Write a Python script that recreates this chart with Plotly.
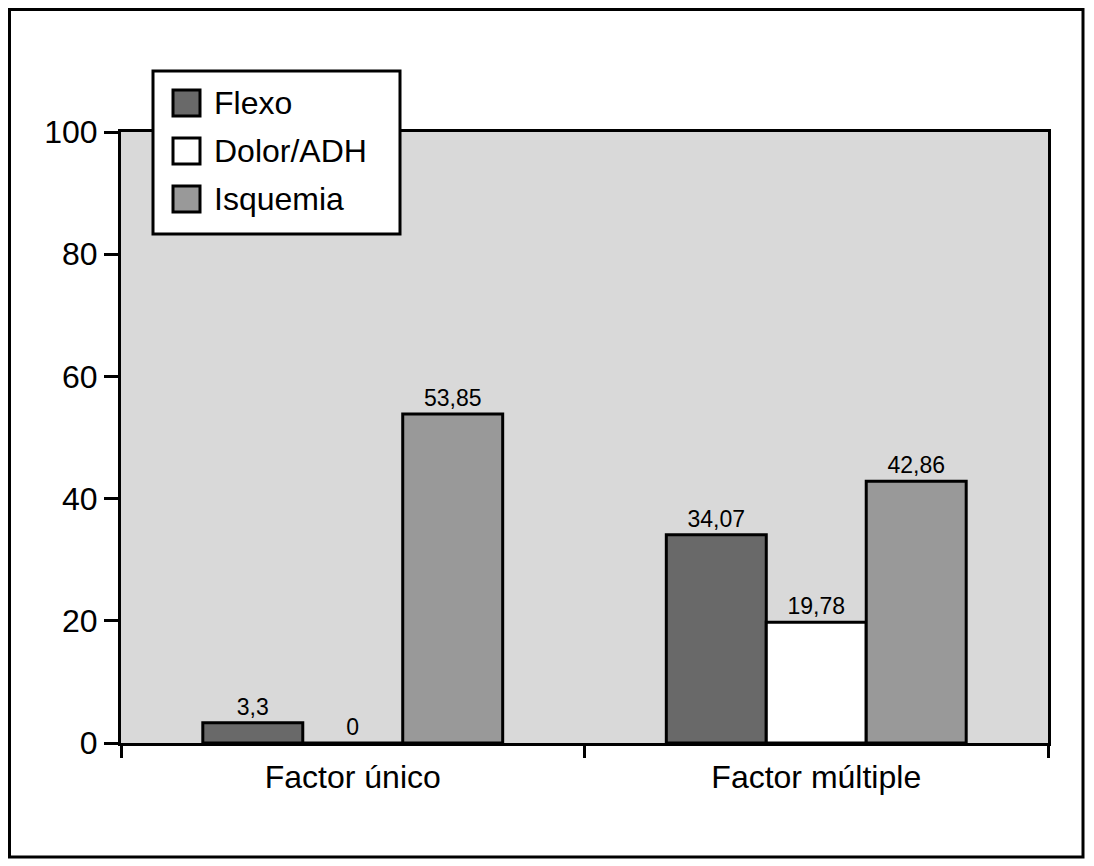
import plotly.graph_objects as go

categories = ["Factor único", "Factor múltiple"]
series_names = ["Flexo", "Dolor/ADH", "Isquemia"]
flexo = [3.3, 34.07]
dolor = [0, 19.78]
isquemia = [53.85, 42.86]
series_values = [flexo, dolor, isquemia]
series_colors = ["#696969", "#ffffff", "#999999"]
y_ticks = [0, 20, 40, 60, 80, 100]

FONT = "Liberation Sans, Arial, Helvetica, sans-serif"
OFF = 8  # browser body margin
W, H = 1094 - OFF, 866 - OFF
L, R, T, B = 121 - OFF, 1048 - OFF, 132 - OFF, 743 - OFF  # plot area (figure px)


def px(x):
    return (x - OFF - L) / (R - L)


def py(y):
    return (B - (y - OFF)) / (B - T)


fig = go.Figure()
for name, vals, col in zip(series_names, series_values, series_colors):
    fig.add_trace(go.Bar(
        x=categories, y=vals, name=name,
        marker=dict(color=col, line=dict(color="black", width=3)),
        text=vals, texttemplate="%{y}", textposition="outside",
        textfont=dict(family=FONT, size=23, color="black"),
        cliponaxis=False, showlegend=False,
    ))

shapes = []
annotations = []
# outer frame
shapes.append(dict(type="rect", xref="paper", yref="paper",
                   x0=px(9.5), x1=px(1083), y0=py(857), y1=py(9.5),
                   line=dict(color="black", width=3), fillcolor="rgba(0,0,0,0)",
                   layer="above"))
# legend box
shapes.append(dict(type="rect", xref="paper", yref="paper",
                   x0=px(153), x1=px(400), y0=py(234), y1=py(71),
                   line=dict(color="black", width=3), fillcolor="white",
                   layer="above"))
for i, (name, col) in enumerate(zip(series_names, series_colors)):
    cy = 103 + i * 48
    shapes.append(dict(type="rect", xref="paper", yref="paper",
                       x0=px(173), x1=px(200), y0=py(cy + 13), y1=py(cy - 13),
                       line=dict(color="black", width=3), fillcolor=col,
                       layer="above"))
    annotations.append(dict(xref="paper", yref="paper", x=px(212), y=py(cy),
                            xanchor="left", yanchor="middle", text=name,
                            showarrow=False,
                            font=dict(family=FONT, size=32, color="black")))

fig.update_layout(
    width=W, height=H,
    margin=dict(l=L, r=W - R, t=T, b=H - B, pad=0),
    paper_bgcolor="white", plot_bgcolor="#d9d9d9",
    barmode="group", bargap=0.353, bargroupgap=0,
    separators=",.",
    font=dict(family=FONT, size=32, color="black"),
    shapes=shapes, annotations=annotations,
    showlegend=False,
)
fig.update_xaxes(
    showline=True, linecolor="black", linewidth=3, mirror=True,
    ticks="outside", ticklen=12, tickwidth=3, tickcolor="black",
    tickson="boundaries", showgrid=False, ticklabelstandoff=4,
    tickfont=dict(family=FONT, size=32, color="black"),
)
fig.update_yaxes(
    range=[0, 100], tickvals=y_ticks,
    showline=True, linecolor="black", linewidth=3, mirror=True,
    ticks="outside", ticklen=14, tickwidth=3, tickcolor="black",
    showgrid=False, zeroline=False,
    tickfont=dict(family=FONT, size=32, color="black"),
)

fig.write_html("out.html")
